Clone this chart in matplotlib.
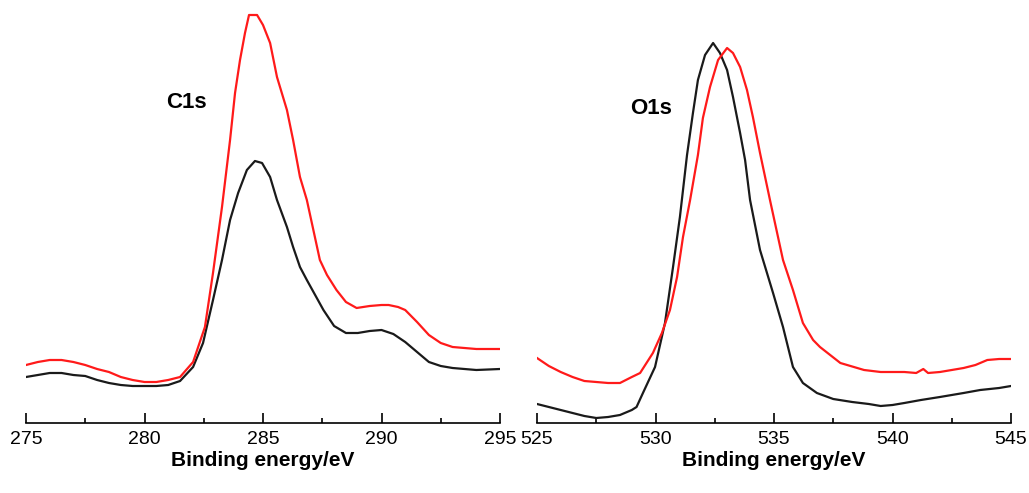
import matplotlib
matplotlib.use("Agg")
import matplotlib.pyplot as plt
import numpy as np

plt.rcParams['font.family'] = ['Liberation Sans', 'DejaVu Sans']

# C1s spectra (binding energy eV, intensity a.u.)
c1s_red_e = [275.0, 275.5, 276.0, 276.5, 277.0, 277.5, 278.0, 278.5, 279.0, 279.5,
             280.0, 280.5, 281.0, 281.5, 282.05, 282.55, 282.89, 283.27, 283.61, 283.82,
             284.03, 284.24, 284.41, 284.75, 285.0, 285.3, 285.59, 286.01, 286.27, 286.56,
             286.85, 287.4, 287.7, 288.1, 288.5, 288.95, 289.5, 290.0, 290.3, 290.7,
             291.0, 291.5, 292.0, 292.5, 293.0, 293.5, 294.0, 294.5, 295.0]
c1s_red_i = [58, 61, 63, 63, 61, 58, 54, 51, 46, 43,
             41, 41, 43, 46, 61, 96, 150, 216, 283, 330,
             363, 390, 408, 408, 398, 380, 346, 313, 283, 246,
             223, 163, 148, 133, 121, 115, 117, 118, 118, 116,
             113, 101, 88, 80, 76, 75, 74, 74, 74]

c1s_blk_e = [275.0, 275.5, 276.0, 276.5, 277.0, 277.5, 278.0, 278.5, 279.0, 279.5,
             280.0, 280.5, 281.0, 281.5, 282.05, 282.47, 282.89, 283.27, 283.61, 283.95,
             284.32, 284.66, 284.96, 285.3, 285.59, 286.01, 286.27, 286.56, 286.85, 287.55,
             288.0, 288.5, 289.0, 289.5, 290.0, 290.5, 291.0, 291.5, 292.0, 292.5,
             293.0, 294.0, 295.0]
c1s_blk_i = [46, 48, 50, 50, 48, 47, 43, 40, 38, 37,
             37, 37, 38, 42, 56, 80, 123, 163, 203, 230,
             253, 262, 260, 246, 223, 196, 176, 156, 143, 113,
             97, 90, 90, 92, 93, 89, 81, 71, 61, 57,
             55, 53, 54]

# O1s spectra
o1s_red_e = [525.0, 525.5, 526.0, 526.5, 527.0, 527.5, 528.0, 528.5, 529.0, 529.35,
             529.89, 530.27, 530.61, 530.91, 531.16, 531.46, 531.79, 532.0, 532.3, 532.64,
             533.02, 533.27, 533.57, 533.86, 534.11, 534.41, 534.83, 535.38, 535.8, 536.22,
             536.65, 536.94, 537.8, 538.8, 539.5, 540.0, 540.5, 541.0, 541.3, 541.5,
             542.0, 542.5, 543.0, 543.5, 544.0, 544.5, 545.0]
o1s_red_i = [65, 57, 51, 46, 42, 41, 40, 40, 46, 50,
             70, 90, 113, 146, 186, 223, 268, 305, 336, 363,
             375, 370, 356, 333, 306, 270, 223, 163, 133, 100,
             83, 76, 60, 53, 51, 51, 51, 50, 54, 50,
             51, 53, 55, 58, 63, 64, 64]

o1s_blk_e = [525.0, 525.5, 526.0, 526.5, 527.0, 527.5, 528.0, 528.5, 529.0, 529.2,
             529.47, 529.98, 530.4, 530.74, 531.03, 531.33, 531.58, 531.79, 532.09, 532.43,
             532.72, 533.02, 533.27, 533.57, 533.78, 533.99, 534.41, 534.96, 535.38, 535.8,
             536.22, 536.81, 537.5, 538.3, 539.0, 539.5, 540.0, 540.5, 541.2, 542.0,
             542.5, 543.0, 543.7, 544.5, 545.0]
o1s_blk_i = [19, 16, 13, 10, 7, 5, 6, 8, 13, 16,
             30, 56, 100, 156, 206, 268, 310, 343, 368, 380,
             370, 353, 326, 290, 263, 223, 173, 130, 96, 56,
             40, 30, 24, 21, 19, 17, 18, 20, 23, 26,
             28, 30, 33, 35, 37]

panels = [
    dict(red=(c1s_red_e, c1s_red_i), blk=(c1s_blk_e, c1s_blk_i), xlim=(275, 295),
         ticks=[275, 280, 285, 290, 295], label='C1s', lab_pos=(281.75, 320)),
    dict(red=(o1s_red_e, o1s_red_i), blk=(o1s_blk_e, o1s_blk_i), xlim=(525, 545),
         ticks=[525, 530, 535, 540, 545], label='O1s', lab_pos=(529.8, 315)),
]

fig = plt.figure(figsize=(10.29, 4.93), dpi=100)
lefts = [26 / 1029, 537 / 1029]

for left, p in zip(lefts, panels):
    ax = fig.add_axes([left, 70 / 493, 474 / 1029, 423 / 493])
    ax.plot(p['blk'][0], p['blk'][1], color='#1a1a1a', lw=1.6)
    ax.plot(p['red'][0], p['red'][1], color='#ff1a1a', lw=1.6)
    ax.set_xlim(*p['xlim'])
    ax.set_ylim(0, 423)
    for s in ['top', 'left', 'right']:
        ax.spines[s].set_visible(False)
    ax.spines['bottom'].set_linewidth(1.2)
    ax.set_yticks([])
    ax.set_xticks(p['ticks'])
    ax.set_xticks(np.arange(p['xlim'][0] + 2.5, p['xlim'][1], 5), minor=True)
    ax.tick_params(axis='x', which='major', direction='in', length=7, width=1.2,
                   labelsize=14, pad=6)
    ax.tick_params(axis='x', which='minor', direction='in', length=3.5, width=1.2)
    ax.set_xlabel('Binding energy/eV', fontsize=15, fontweight='bold', labelpad=2)
    ax.text(p['lab_pos'][0], p['lab_pos'][1], p['label'], fontsize=16,
            fontweight='bold', ha='center', va='center')
    ax.patch.set_alpha(0)

fig.savefig('out.png', dpi=100)
